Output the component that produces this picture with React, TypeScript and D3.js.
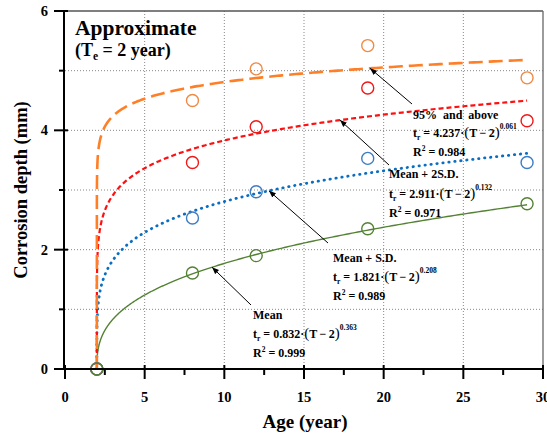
import React from "react";
import * as d3 from "d3";

const ages = [2, 8, 12, 19, 29];
const seriesNames = ["95% and above", "Mean + 2S.D.", "Mean + S.D.", "Mean"];
const obs95 = [0, 4.5, 5.03, 5.42, 4.88];
const obs2SD = [0, 3.46, 4.06, 4.71, 4.16];
const obs1SD = [0, 2.53, 2.97, 3.53, 3.46];
const obsMean = [0, 1.61, 1.9, 2.35, 2.77];
const fitA = [4.237, 2.911, 1.821, 0.832];
const fitB = [0.061, 0.132, 0.208, 0.363];
const fitR2 = ["0.984", "0.971", "0.989", "0.999"];
const xTicks = [0, 5, 10, 15, 20, 25, 30];
const yTicks = [0, 2, 4, 6];

const W = 547;
const H = 439;
const FONT = "'Liberation Serif', 'Times New Roman', Times, serif";

const x = d3.scaleLinear().domain([0, 30]).range([65, 543]);
const y = d3.scaleLinear().domain([0, 6]).range([369, 11]);

const lineColors = ["#FF7F27", "#FF1010", "#0A6FC2", "#548235"];
const markerColors = ["#EE8A45", "#F01818", "#3D7CC4", "#548235"];
const dashes = ["14,6", "5,3", "0.4,5.6", ""];
const widths = [2.6, 2.2, 2.8, 1.4];
const caps = ["butt", "butt", "round", "butt"];
const obsAll = [obs95, obs2SD, obs1SD, obsMean];

// annotation layout: arrow tip age on curve, arrow tail, text anchor
const annot = [
  { tipT: 19.15, tail: [412, 104], tx: 413, ty: [119, 137, 156] },
  { tipT: 17.26, tail: [389, 165], tx: 389, ty: [178, 198, 217] },
  { tipT: 12.8, tail: [328, 243], tx: 333, ty: [262, 281, 300] },
  { tipT: 9.23, tail: [251, 305], tx: 253, ty: [319, 338, 357] },
];

function fit(i: number, t: number) {
  return t <= 2 ? 0 : fitA[i] * Math.pow(t - 2, fitB[i]);
}

export default function App() {
  const samples: number[] = [];
  for (let k = 0; k <= 400; k++) {
    const u = k / 400;
    samples.push(2 + 27 * Math.pow(u, 4));
  }

  const xMinor = d3.range(2.5, 30, 5);
  const yMinor = [1, 3, 5];
  const xGrid = [5, 10, 15, 20, 25];
  const yGrid = [1, 2, 3, 4, 5];

  return (
    <svg
      width={W}
      height={H}
      style={{ position: "absolute", left: 0, top: 0, background: "#fff" }}
      fontFamily={FONT}
    >
      <defs>
        <marker
          id="arr"
          viewBox="0 0 10 10"
          refX="10"
          refY="5"
          markerWidth="7"
          markerHeight="7"
          orient="auto-start-reverse"
          markerUnits="userSpaceOnUse"
        >
          <path d="M0,1 L10,5 L0,9 z" fill="#000" />
        </marker>
        <clipPath id="plotclip">
          <rect x={x(0)} y={y(6) - 5} width={x(30) - x(0)} height={y(0) - y(6) + 5} />
        </clipPath>
      </defs>
      {/* grid */}
      {xGrid.map((v) => (
        <line key={"gx" + v} x1={x(v)} x2={x(v)} y1={y(0)} y2={y(6)} stroke="#888" strokeWidth={1} strokeDasharray="1,2" />
      ))}
      {yGrid.map((v) => (
        <line key={"gy" + v} x1={x(0)} x2={x(30)} y1={y(v)} y2={y(v)} stroke="#888" strokeWidth={1} strokeDasharray="1,2" />
      ))}
      {/* frame top / right */}
      <line x1={x(0)} x2={x(30)} y1={y(6)} y2={y(6)} stroke="#555" strokeWidth={1.3} />
      <line x1={x(30)} x2={x(30)} y1={y(6)} y2={y(0)} stroke="#666" strokeWidth={1.3} />

      {/* curves */}
      <g clipPath="url(#plotclip)">
        {[3, 2, 1, 0].map((i) => (
          <path
            key={"c" + i}
            d={d3.line<number>().x((t) => x(t)).y((t) => y(fit(i, t)))(samples) || ""}
            fill="none"
            stroke={lineColors[i]}
            strokeWidth={widths[i]}
            strokeDasharray={dashes[i] || undefined}
            strokeLinecap={caps[i] as any}
          />
        ))}
      </g>

      {/* markers */}
      {[0, 1, 2, 3].map((i) =>
        ages.map((a, j) => (
          <circle
            key={"m" + i + "-" + j}
            cx={x(a)}
            cy={y(obsAll[i][j])}
            r={6}
            fill="none"
            stroke={markerColors[i]}
            strokeWidth={1.4}
          />
        ))
      )}

      {/* axes */}
      <line x1={x(0)} x2={x(30)} y1={y(0)} y2={y(0)} stroke="#000" strokeWidth={2} />
      <line x1={x(0) - 1} x2={x(0) - 1} y1={y(0) + 1} y2={y(6)} stroke="#000" strokeWidth={2} />
      {xTicks.map((v) => (
        <g key={"xt" + v}>
          <line x1={x(v)} x2={x(v)} y1={y(0) - 4} y2={y(0) + 10} stroke="#000" strokeWidth={2} />
          <text x={x(v)} y={402} textAnchor="middle" fontSize={14.5} fontWeight="bold">
            {v}
          </text>
        </g>
      ))}
      {xMinor.map((v) => (
        <line key={"xm" + v} x1={x(v)} x2={x(v)} y1={y(0)} y2={y(0) + 6} stroke="#000" strokeWidth={2} />
      ))}
      {yTicks.map((v) => (
        <g key={"yt" + v}>
          <line x1={x(0) - 11} x2={x(0) + 3} y1={y(v)} y2={y(v)} stroke="#000" strokeWidth={2} />
          <text x={48} y={y(v) + 5} textAnchor="end" fontSize={14.5} fontWeight="bold">
            {v}
          </text>
        </g>
      ))}
      {yMinor.map((v) => (
        <line key={"ym" + v} x1={x(0) - 6} x2={x(0)} y1={y(v)} y2={y(v)} stroke="#000" strokeWidth={2} />
      ))}

      {/* axis titles */}
      <text x={305} y={428} textAnchor="middle" fontSize={19} fontWeight="bold">
        Age (year)
      </text>
      <text
        transform={`translate(27,${y(3)}) rotate(-90)`}
        textAnchor="middle"
        fontSize={18.5}
        fontWeight="bold"
      >
        Corrosion depth (mm)
      </text>

      {/* title */}
      <text x={75} y={35} fontSize={21.5} fontWeight="bold">
        Approximate
      </text>
      <text x={75} y={56} fontSize={18} fontWeight="bold">
        (T<tspan fontSize={11.5} dy={4}>e</tspan>
        <tspan dy={-4}> = 2 year)</tspan>
      </text>

      {/* annotations */}
      {annot.map((a, i) => {
        const tipX = x(a.tipT);
        const tipY = y(fit(i, a.tipT));
        return (
          <g key={"an" + i} fontWeight="bold">
            <line
              x1={a.tail[0]}
              y1={a.tail[1]}
              x2={tipX}
              y2={tipY}
              stroke="#000"
              strokeWidth={1}
              markerEnd="url(#arr)"
            />
            <text x={a.tx} y={a.ty[0]} fontSize={12} style={{ whiteSpace: "pre" }}>
              {i === 0 ? "95%  and  above" : seriesNames[i]}
            </text>
            <text x={a.tx} y={a.ty[1]} fontSize={12}>
              t<tspan fontSize={7.5} dy={3}>r</tspan>
              <tspan dy={-3}>{" = " + fitA[i].toFixed(3) + "\u00b7"}</tspan>
              <tspan fontSize={15} fontWeight="normal">(</tspan>
              <tspan>{"T\u2009\u2212\u20092"}</tspan>
              <tspan fontSize={15} fontWeight="normal">)</tspan>
              <tspan fontSize={7.5} dy={-8}>{fitB[i].toFixed(3)}</tspan>
            </text>
            <text x={a.tx} y={a.ty[2]} fontSize={12}>
              R<tspan fontSize={7.5} dy={-5}>2</tspan>
              <tspan dy={5}>{" = " + fitR2[i]}</tspan>
            </text>
          </g>
        );
      })}
    </svg>
  );
}
